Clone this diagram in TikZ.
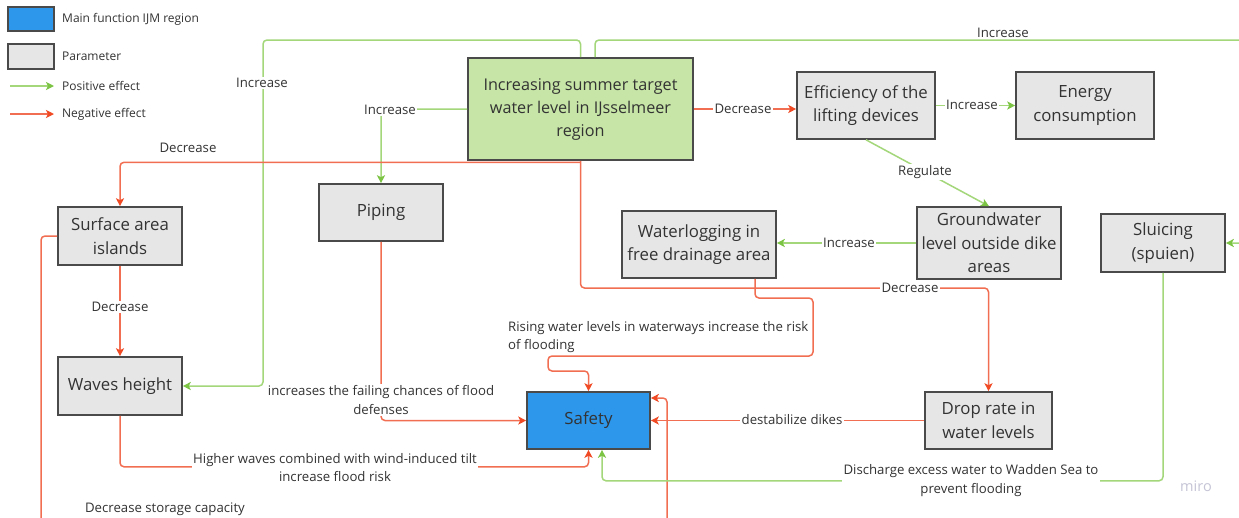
\documentclass[tikz,border=0pt]{standalone}
\usepackage{fontspec}
\setmainfont{Open Sans}
\usetikzlibrary{arrows.meta}

\definecolor{posline}{HTML}{A3D77A}
\definecolor{poshead}{HTML}{7CC444}
\definecolor{negline}{HTML}{F26E52}
\definecolor{neghead}{HTML}{F04A24}
\definecolor{boxedge}{HTML}{4A4A4A}
\definecolor{paramfill}{HTML}{E6E6E6}
\definecolor{mainfill}{HTML}{C6E5A6}
\definecolor{safetyfill}{HTML}{2D97EC}
\definecolor{txt}{HTML}{333333}
\definecolor{wmark}{HTML}{C4C4D6}

\begin{document}
\begin{tikzpicture}[x=1pt,y=-1pt,
  param/.style={draw=boxedge, line width=1.6pt, fill=paramfill, text=txt,
    font=\fontsize{16.8}{23.5}\selectfont, align=center, inner sep=0pt},
  mainbox/.style={param, fill=mainfill, font=\fontsize{16.2}{23}\selectfont},
  safebox/.style={param, fill=safetyfill},
  posfx/.style={draw=posline, line width=1.5pt, rounded corners=4pt,
    -{Stealth[length=8pt,width=8pt,inset=2pt,color=poshead]}},
  negfx/.style={draw=negline, line width=1.5pt, rounded corners=4pt,
    -{Stealth[length=8pt,width=8pt,inset=2pt,color=neghead]}},
  lbl/.style={fill=white, text=txt, font=\fontsize{13.2}{18.5}\selectfont,
    inner sep=1.5pt, align=center},
  note/.style={text=txt, font=\fontsize{13.2}{18.5}\selectfont, inner sep=0pt, align=center},
  legtext/.style={text=txt, font=\fontsize{12}{14}\selectfont, inner sep=0pt, anchor=west}
]
\useasboundingbox (0,0) rectangle (1239,517);
\clip (0,0) rectangle (1239,517);
\fill[white] (0,0) rectangle (1239,517);

% ---------- legend ----------
\node[safebox, minimum width=46pt, minimum height=24pt] (legmain) at (31,19) {};
\node[param, minimum width=46pt, minimum height=25pt] (legparam) at (31,56.5) {};
\coordinate (lgpa) at (10,86);  \coordinate (lgpb) at (54,86);
\coordinate (lgna) at (10,114); \coordinate (lgnb) at (54,114);
\draw[posfx, line width=1.3pt] (lgpa) -- (lgpb);
\draw[negfx, line width=1.3pt] (lgna) -- (lgnb);
\node[legtext] (legt1) at (62,19) {Main function IJM region};
\node[legtext] (legt2) at (62,56) {Parameter};
\node[legtext] (legt3) at (62,86) {Positive effect};
\node[legtext] (legt4) at (62,114) {Negative effect};

% ---------- boxes ----------
\node[mainbox, minimum width=225pt, minimum height=102pt] (main) at (580.5,109)
  {Increasing summer target\\water level in IJsselmeer\\region};
\node[param, minimum width=138pt, minimum height=67pt] (eff) at (866,105.5)
  {Efficiency of the\\lifting devices};
\node[param, minimum width=138pt, minimum height=67pt] (energy) at (1085,105.5)
  {Energy\\consumption};
\node[param, minimum width=124pt, minimum height=58pt] (surf) at (120,236)
  {Surface area\\islands};
\node[param, minimum width=124pt, minimum height=57pt] (piping) at (381,212.5)
  {Piping};
\node[param, minimum width=154pt, minimum height=67pt] (water) at (699,244.5)
  {Waterlogging in\\free drainage area};
\node[param, minimum width=144pt, minimum height=72pt] (ground) at (989,243)
  {Groundwater\\level outside dike\\areas};
\node[param, minimum width=124pt, minimum height=58pt] (sluice) at (1163,243)
  {Sluicing\\(spuien)};
\node[param, minimum width=124pt, minimum height=58pt] (waves) at (120,386)
  {Waves height};
\node[safebox, minimum width=123pt, minimum height=57pt] (safety) at (588.5,420.5)
  {Safety};
\node[param, minimum width=127pt, minimum height=57pt] (drop) at (988.5,420.5)
  {Drop rate in\\water levels};

% ---------- connectors ----------
% top loops leaving the main box
\draw[posfx] (main.north) |- (263,40) |- (waves.east);
\node[lbl] (lincwaves) at (262,83) {Increase};
\draw[posfx] ([xshift=14.5pt]main.north) |- (1262,40) |- (sluice.east);
\node[note] (lincsluice) at (1003,33) {Increase};

% main box to piping
\draw[posfx] (main.west) -| (piping.north);
\node[lbl] (lincpiping) at (390,110) {Increase};

% main box to surface area islands
\draw[negfx] ([yshift=-1.5pt]main.south) -| (surf.north);
\node[note] (ldecsurf) at (188,148) {Decrease};

% main box to drop rate
\draw[negfx] (main.south) |- (988.5,288) -- (drop.north);
\node[lbl] (ldecdrop) at (910,288) {Decrease};

% main box to efficiency, efficiency to energy
\draw[negfx] (main.east) -- (eff.west |- main.east);
\node[lbl] (ldeceff) at (743,109) {Decrease};
\draw[posfx] (eff.east) -- (energy.west);
\node[lbl] (lincenergy) at (972,105) {Increase};

% efficiency regulates groundwater, groundwater to waterlogging
\draw[posfx, rounded corners=0pt] (eff.south) -- (ground.north);
\node[lbl] (lreg) at (925,172) {Regulate};
\draw[posfx] (ground.west) -- (water.east |- ground.west);
\node[lbl] (lincwater) at (849,243) {Increase};

% surface area islands to waves height
\draw[negfx] (surf.south) -- (waves.north);
\node[lbl] (ldecwaves) at (120,307) {Decrease};

% surface area islands, storage capacity loop to safety
\draw[negfx] (surf.west) -| (41,545) -| (667,398) -- ([yshift=22.5pt]safety.east);
\node[note] (lstorage) at (165,509) {Decrease storage capacity};

% waves height to safety
\draw[negfx] (waves.south) |- ([yshift=-17pt]safety.south) -- (safety.south);
\node[lbl] (lwaves) at (335,467.5) {Higher waves combined with wind-induced tilt\\increase flood risk};

% piping to safety
\draw[negfx] (piping.south) |- (safety.west);
\node[lbl] (lpiping) at (381,400) {increases the failing chances of flood\\defenses};

% waterlogging to safety
\draw[negfx] ([xshift=56pt]water.south) |- (813,298) |- (548,356) |- (588.5,371) -- (safety.north);
\node[note, anchor=west, align=left] (lrising) at (508,337)
  {Rising water levels in waterways increase the risk\\of flooding};

% drop rate to safety
\draw[negfx] (drop.west) -- (safety.east);
\node[lbl] (ldestab) at (792,420) {destabilize dikes};

% sluicing to safety
\draw[posfx] (sluice.south) |- ([xshift=13.5pt,yshift=-31pt]safety.south) -- ([xshift=13.5pt]safety.south);
\node[lbl] (lsluice) at (971,480.5) {Discharge excess water to Wadden Sea to\\prevent flooding};

% board watermark
\node[text=wmark, font=\fontsize{14.5}{14.5}\selectfont, inner sep=0pt] (wm) at (1196,486) {miro};
\end{tikzpicture}
\end{document}
